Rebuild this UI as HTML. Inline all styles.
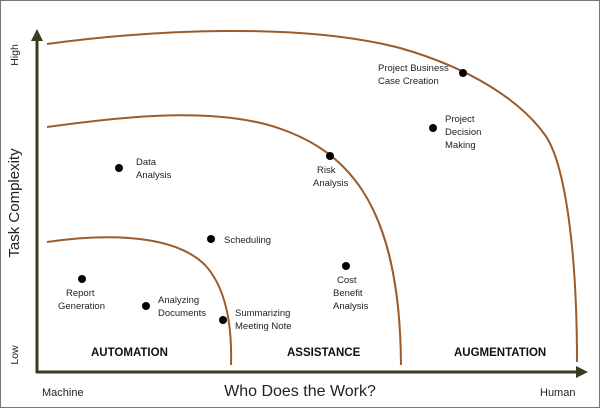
<!DOCTYPE html>
<html><head><meta charset="utf-8"><style>
body{margin:0;background:#fff}
svg{display:block;font-family:"Liberation Sans",sans-serif}
</style></head><body>
<svg width="600" height="408" viewBox="0 0 600 408">
<rect x="0.5" y="0.5" width="599" height="407" fill="#fff" stroke="#777"/>
<g fill="none" stroke="#9a5c2c" stroke-width="2">
<path d="M47,44 C150,30 300,22 400,48 C470,68 520,100 545,135 C565,163 577,250 577,362"/>
<path d="M47,127 C120,117 200,108 265,124 C345,146 400,200 401,365"/>
<path d="M47,242 C110,233 175,235 205,265 C228,290 232,330 231,365"/>
</g>
<g stroke="#3d3a22" stroke-width="3" fill="#3d3a22">
<line x1="37" y1="40" x2="37" y2="373"/>
<line x1="36" y1="372" x2="580" y2="372"/>
<polygon points="37,29 31,41 43,41" stroke="none"/>
<polygon points="588,372 576,366 576,378" stroke="none"/>
</g>
<g fill="#000">
<circle cx="119" cy="168" r="4"/><circle cx="211" cy="239" r="4"/><circle cx="82" cy="279" r="4"/>
<circle cx="146" cy="306" r="4"/><circle cx="223" cy="320" r="4"/><circle cx="346" cy="266" r="4"/>
<circle cx="330" cy="156" r="4"/><circle cx="433" cy="128" r="4"/><circle cx="463" cy="73" r="4"/>
</g>
<g font-size="9.5" fill="#222">
<text x="136" y="165">Data</text><text x="136" y="178">Analysis</text>
<text x="224" y="243">Scheduling</text>
<text x="66" y="296">Report</text><text x="58" y="309">Generation</text>
<text x="158" y="303">Analyzing</text><text x="158" y="316">Documents</text>
<text x="235" y="316">Summarizing</text><text x="235" y="329">Meeting Note</text>
<text x="337" y="283">Cost</text><text x="333" y="296">Benefit</text><text x="333" y="309">Analysis</text>
<text x="317" y="173">Risk</text><text x="313" y="186">Analysis</text>
<text x="445" y="122">Project</text><text x="445" y="135">Decision</text><text x="445" y="148">Making</text>
<text x="378" y="71">Project Business</text><text x="378" y="84">Case Creation</text>
</g>
<g font-size="11.5" font-weight="bold" fill="#111">
<text x="91" y="356">AUTOMATION</text>
<text x="287" y="356">ASSISTANCE</text>
<text x="454" y="356">AUGMENTATION</text>
</g>
<g fill="#222">
<text font-size="15" transform="translate(19,203) rotate(-90)" text-anchor="middle">Task Complexity</text>
<text font-size="10.5" transform="translate(18,55) rotate(-90)" text-anchor="middle">High</text>
<text font-size="10.5" transform="translate(18,355) rotate(-90)" text-anchor="middle">Low</text>
<text font-size="11" x="42" y="396">Machine</text>
<text font-size="11" x="540" y="396">Human</text>
<text font-size="16" x="300" y="396" text-anchor="middle">Who Does the Work?</text>
</g>
</svg>
</body></html>
